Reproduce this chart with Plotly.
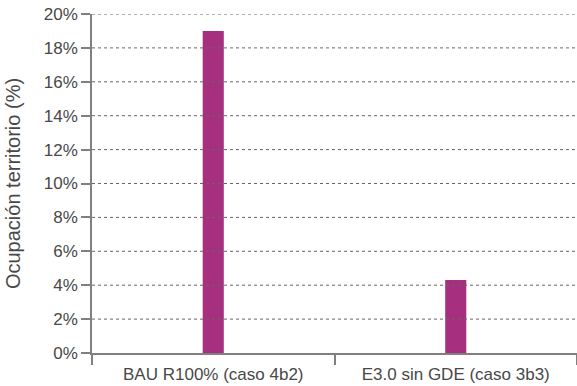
import plotly.graph_objects as go

# Data
categorias = ['BAU R100% (caso 4b2)', 'E3.0 sin GDE (caso 3b3)']
ocupacion = [19.0, 4.3]
ticks_y = [0, 2, 4, 6, 8, 10, 12, 14, 16, 18, 20]
etiquetas_y = [f'{v}%' for v in ticks_y]

trace = go.Bar(x=categorias, y=ocupacion, width=0.087,
               marker={'color': '#A62F7F', 'line': {'width': 0}})

# dotted grid drawn above the bars, like the original
grid = [dict(type='line', xref='paper', yref='y', x0=0, x1=1, y0=v, y1=v,
             line=dict(color='#666666', width=1, dash='dot'), layer='above')
        for v in ticks_y[1:]]

layout = go.Layout(
    width=577, height=386,
    margin=dict(l=92, r=0, t=14, b=33),
    paper_bgcolor='white', plot_bgcolor='white',
    font=dict(family='Liberation Sans, Arial, sans-serif', size=17, color='#484848'),
    showlegend=False,
    shapes=grid,
    xaxis=dict(range=[-0.5, 1.5], showline=True, linecolor='#808080', linewidth=1.5,
               ticks='outside', tickson='boundaries', ticklen=10, tickcolor='#808080',
               tickwidth=1.5, showgrid=False, automargin=False, ticklabelstandoff=5),
    yaxis=dict(range=[0, 20], tickvals=ticks_y, ticktext=etiquetas_y,
               showline=True, linecolor='#808080', linewidth=1.5,
               ticks='outside', ticklen=9, tickcolor='#808080', tickwidth=1.5,
               showgrid=False, zeroline=False, automargin=False,
               title=dict(text='Ocupación territorio (%)', standoff=18)),
)

fig = go.Figure(data=[trace], layout=layout)
# drop the default 8px page margin so the figure sits at the window corner
fig.write_html("out.html", config={'displayModeBar': False},
               post_script="document.body.style.margin='0';")
